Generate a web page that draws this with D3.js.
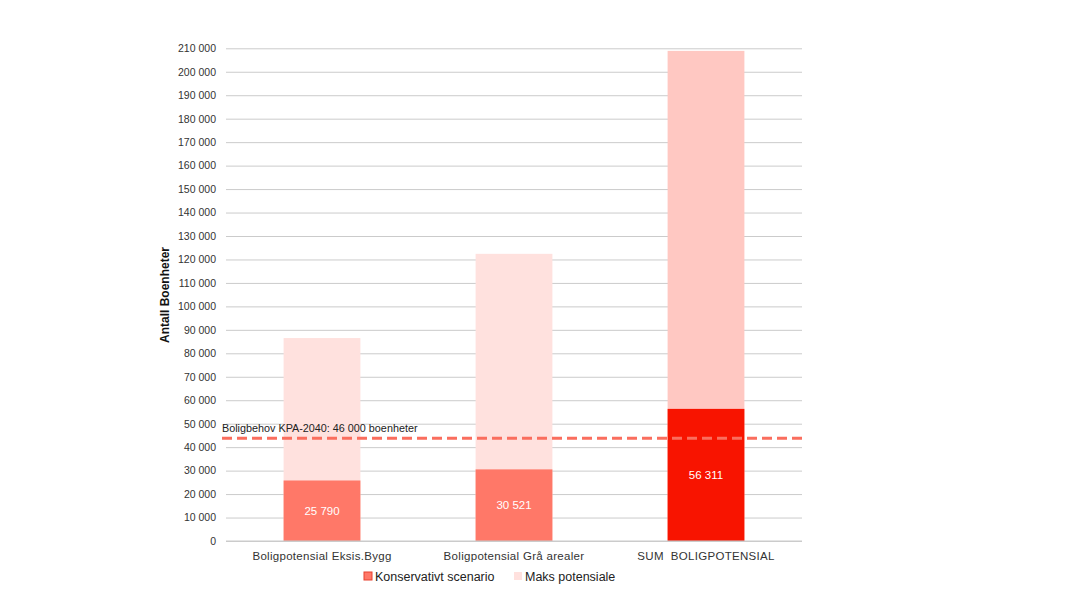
<!DOCTYPE html>
<html>
<head>
<meta charset="utf-8">
<script src="https://cdn.jsdelivr.net/npm/d3@7"></script>
<style>
  body { margin: 0; background: #fff; }
  svg { font-family: "Liberation Sans", Arial, sans-serif; }
</style>
</head>
<body>
<script>
// data
const categories = ["Boligpotensial Eksis.Bygg", "Boligpotensial Grå arealer", "SUM  BOLIGPOTENSIAL"];
const konservativt = [25790, 30521, 56311];
const maksTotal = [86500, 122400, 208900];
const yTicks = d3.range(0, 210001, 10000);
const behovValue = 43800;
const behovLabel = "Boligbehov KPA-2040: 46 000 boenheter";

const width = 1080, height = 608;
const x = d3.scaleBand().domain(categories).range([226, 802]).paddingInner(0.6).paddingOuter(0.3);
const y = d3.scaleLinear().domain([0, 210000]).range([541, 48.3]);

const fmt = d => d3.format(",d")(d).replace(/,/g, " ");

const colK = ["#ff7868", "#ff7868", "#f81400"];
const colM = ["#ffe1de", "#ffe1de", "#ffc8c2"];

const svg = d3.select("body").append("svg")
    .attr("width", width)
    .attr("height", height);

// gridlines + tick labels
const yAxis = svg.append("g")
    .attr("transform", "translate(226,0)")
    .call(d3.axisLeft(y).tickValues(yTicks).tickSize(-576).tickPadding(10).tickFormat(fmt));
yAxis.select(".domain").remove();
yAxis.selectAll(".tick line").attr("stroke", "#cbcbcb");
yAxis.selectAll(".tick text").attr("fill", "#333").style("font-size", "10.5px");

// bars: max potential behind, conservative on top
const bars = svg.append("g");
bars.selectAll("rect.maks")
  .data(categories)
  .join("rect")
    .attr("class", "maks")
    .attr("x", d => x(d))
    .attr("width", x.bandwidth())
    .attr("y", (d, i) => y(maksTotal[i]))
    .attr("height", (d, i) => y(0) - y(maksTotal[i]))
    .attr("fill", (d, i) => colM[i]);

bars.selectAll("rect.kons")
  .data(categories)
  .join("rect")
    .attr("class", "kons")
    .attr("x", d => x(d))
    .attr("width", x.bandwidth())
    .attr("y", (d, i) => y(konservativt[i]))
    .attr("height", (d, i) => y(0) - y(konservativt[i]))
    .attr("fill", (d, i) => colK[i]);

bars.selectAll("text")
  .data(categories)
  .join("text")
    .attr("x", d => x(d) + x.bandwidth() / 2)
    .attr("y", (d, i) => (y(0) + y(konservativt[i])) / 2 + 4)
    .attr("text-anchor", "middle")
    .attr("fill", "#fff")
    .style("font-size", "11.5px")
    .text((d, i) => fmt(konservativt[i]));

// baseline
svg.append("line")
    .attr("x1", 226).attr("x2", 802)
    .attr("y1", y(0)).attr("y2", y(0))
    .attr("stroke", "#cbcbcb");

// need line
svg.append("line")
    .attr("x1", 222).attr("x2", 804)
    .attr("y1", y(behovValue)).attr("y2", y(behovValue))
    .attr("stroke", "#fa6e5e")
    .attr("stroke-width", 3)
    .attr("stroke-dasharray", "10,5");

svg.append("text")
    .attr("x", 222)
    .attr("y", y(behovValue) - 6)
    .attr("fill", "#222")
    .style("font-size", "10.8px")
    .text(behovLabel);

// category labels
svg.append("g").selectAll("text")
  .data(categories)
  .join("text")
    .attr("x", d => x(d) + x.bandwidth() / 2)
    .attr("y", 560)
    .attr("text-anchor", "middle")
    .attr("fill", "#333")
    .style("font-size", "11.5px")
    .style("letter-spacing", "0.3px")
    .style("white-space", "pre")
    .text(d => d);

// y title
svg.append("text")
    .attr("transform", "translate(169,295) rotate(-90)")
    .attr("text-anchor", "middle")
    .attr("fill", "#111")
    .style("font-size", "12px")
    .style("font-weight", "bold")
    .text("Antall Boenheter");

// legend
const legendItems = [
  { label: "Konservativt scenario", fill: "#ff7868", stroke: "#e8402f", x: 364 },
  { label: "Maks potensiale", fill: "#ffe1de", stroke: "none", x: 514 }
];
const lg = svg.append("g").selectAll("g")
  .data(legendItems)
  .join("g")
    .attr("transform", d => `translate(${d.x},572)`);
lg.append("rect")
    .attr("width", 8).attr("height", 8)
    .attr("fill", d => d.fill)
    .attr("stroke", d => d.stroke);
lg.append("text")
    .attr("x", 11).attr("y", 8.5)
    .attr("fill", "#222")
    .style("font-size", "12.5px")
    .text(d => d.label);
</script>
</body>
</html>
